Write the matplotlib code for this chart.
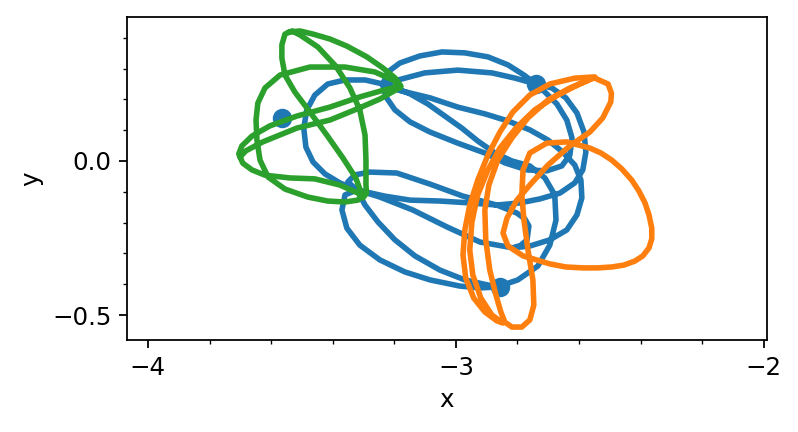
import numpy as np
import matplotlib
matplotlib.use("Agg")
import matplotlib.pyplot as plt

plt.rcParams["font.size"] = 11

# body 1 (blue) trajectory
x1 = [-2.867, -2.799, -2.734, -2.695, -2.675, -2.679, -2.711, -2.760, -2.818, -2.873,
      -2.929, -2.981, -3.036, -3.091, -3.149, -3.198,
      -3.237, -3.221, -3.182, -3.117, -3.045, -2.971, -2.896, -2.831, -2.779, -2.740,
      -2.688, -2.643, -2.607, -2.584, -2.578, -2.588, -2.614, -2.662, -2.727, -2.792,
      -2.867, -2.955, -3.052, -3.149, -3.231, -3.321,
      -3.377, -3.425, -3.464, -3.487, -3.494, -3.484, -3.458, -3.416, -3.360, -3.295, -3.237,
      -3.188, -3.101, -2.994, -2.883, -2.808, -2.740,
      -2.711, -2.672, -2.640, -2.623, -2.630, -2.656, -2.705, -2.769, -2.841, -2.906,
      -2.994, -3.084, -3.149, -3.198, -3.227, -3.237,
      -3.175, -3.084, -2.994, -2.906, -2.831, -2.760, -2.701, -2.653, -2.614, -2.594,
      -2.591, -2.607, -2.640, -2.695, -2.760, -2.815,
      -2.922, -3.029, -3.140, -3.247, -3.321,
      -3.360, -3.370, -3.354, -3.312, -3.247, -3.166, -3.084, -2.987, -2.922, -2.867,
      -2.971, -3.052, -3.133, -3.198, -3.253, -3.295, -3.321,
      -3.351, -3.328, -3.279, -3.192, -3.084, -2.977, -2.867, -2.802, -2.776, -2.763,
      -2.769, -2.790, -2.815]
y1 = [-0.409, -0.386, -0.341, -0.273, -0.192, -0.110, -0.055, -0.016, 0.000, 0.026,
      0.065, 0.107, 0.146, 0.185, 0.218, 0.237,
      0.250, 0.289, 0.318, 0.341, 0.354, 0.351, 0.338, 0.312, 0.279, 0.250,
      0.237, 0.205, 0.156, 0.094, 0.029, -0.029, -0.071, -0.104, -0.123, -0.136,
      -0.143, -0.136, -0.130, -0.127, -0.114, -0.094,
      -0.071, -0.042, -0.003, 0.045, 0.107, 0.166, 0.214, 0.250, 0.263, 0.263, 0.250,
      0.263, 0.286, 0.295, 0.286, 0.269, 0.250,
      0.224, 0.185, 0.133, 0.075, 0.019, -0.016, -0.032, -0.029, -0.006, 0.026,
      0.058, 0.094, 0.127, 0.166, 0.208, 0.244,
      0.227, 0.205, 0.175, 0.153, 0.130, 0.101, 0.068, 0.029, -0.013, -0.062,
      -0.120, -0.175, -0.224, -0.256, -0.276, -0.282,
      -0.263, -0.214, -0.159, -0.117, -0.094,
      -0.110, -0.159, -0.218, -0.273, -0.321, -0.360, -0.386, -0.406, -0.412, -0.409,
      -0.386, -0.354, -0.308, -0.256, -0.198, -0.143, -0.094,
      -0.068, -0.045, -0.036, -0.039, -0.075, -0.114, -0.143, -0.169, -0.188, -0.211,
      -0.256, -0.274, -0.282]

# body 2 (orange) trajectory
x2 = [-2.549, -2.614, -2.695, -2.760, -2.815, -2.857, -2.896, -2.929, -2.955, -2.971,
      -2.977, -2.968, -2.942, -2.906, -2.867, -2.847,
      -2.883, -2.919, -2.945, -2.955, -2.948, -2.929, -2.896, -2.857, -2.805, -2.744,
      -2.669, -2.604, -2.555,
      -2.630, -2.701, -2.766, -2.818, -2.864, -2.893, -2.906, -2.903, -2.890, -2.870,
      -2.854, -2.841, -2.818, -2.786, -2.760, -2.747, -2.750, -2.766, -2.779, -2.786,
      -2.782, -2.760, -2.705, -2.640, -2.565, -2.529, -2.494, -2.461, -2.429, -2.406,
      -2.386, -2.373, -2.364, -2.364, -2.373, -2.393, -2.419, -2.455, -2.494, -2.539,
      -2.588, -2.643, -2.695, -2.782, -2.831, -2.847, -2.834, -2.802, -2.760,
      -2.701, -2.630, -2.565, -2.523, -2.497, -2.495, -2.506, -2.549]
y2 = [0.273, 0.269, 0.250, 0.214, 0.159, 0.094, 0.019, -0.062, -0.143, -0.224,
      -0.305, -0.380, -0.445, -0.490, -0.519, -0.526,
      -0.500, -0.445, -0.370, -0.289, -0.198, -0.110, -0.029, 0.042, 0.107, 0.166,
      0.214, 0.247, 0.269,
      0.237, 0.198, 0.140, 0.075, 0.003, -0.078, -0.159, -0.256, -0.354, -0.435,
      -0.490, -0.523, -0.539, -0.539, -0.516, -0.468, -0.386, -0.289, -0.192, -0.110,
      -0.029, 0.026, 0.058, 0.062, 0.042, 0.026, 0.003, -0.026, -0.062, -0.097,
      -0.136, -0.175, -0.218, -0.253, -0.282, -0.308, -0.325, -0.338, -0.344, -0.347,
      -0.347, -0.344, -0.334, -0.308, -0.276, -0.234, -0.185, -0.127, -0.078,
      -0.013, 0.049, 0.094, 0.140, 0.192, 0.220, 0.250, 0.269]

# body 3 (green) trajectory
x3 = [-3.542, -3.506, -3.464, -3.409, -3.354, -3.289, -3.237, -3.198, -3.179,
      -3.231, -3.312, -3.409, -3.516, -3.604, -3.662, -3.695, -3.705,
      -3.692, -3.662, -3.620, -3.539, -3.458, -3.377, -3.318, -3.302,
      -3.290, -3.292, -3.292, -3.295, -3.312, -3.344, -3.390, -3.448, -3.506, -3.532, -3.555,
      -3.565, -3.565, -3.555, -3.523, -3.474, -3.419, -3.367, -3.325, -3.305,
      -3.318, -3.360, -3.416, -3.481, -3.555, -3.610, -3.636, -3.646, -3.649, -3.643,
      -3.620, -3.571, -3.474, -3.360, -3.263, -3.205, -3.179,
      -3.247, -3.328, -3.409, -3.516, -3.627, -3.682, -3.701]
y3 = [0.419, 0.422, 0.412, 0.396, 0.373, 0.338, 0.302, 0.270, 0.244,
      0.231, 0.208, 0.175, 0.146, 0.114, 0.081, 0.049, 0.023,
      -0.007, -0.029, -0.046, -0.055, -0.058, -0.078, -0.104, -0.120,
      -0.104, -0.078, 0.003, 0.084, 0.166, 0.237, 0.308, 0.370, 0.409, 0.422, 0.412,
      0.377, 0.334, 0.279, 0.224, 0.159, 0.084, 0.010, -0.055, -0.110,
      -0.127, -0.133, -0.130, -0.117, -0.091, -0.052, 0.003, 0.068, 0.133, 0.188,
      0.237, 0.279, 0.305, 0.305, 0.289, 0.263, 0.240,
      0.201, 0.166, 0.133, 0.107, 0.062, 0.033, 0.013]

# starting positions
x0 = [-3.565, -2.740, -2.857]
y0 = [0.140, 0.250, -0.409]

fig = plt.figure(figsize=(798 / 160, 432 / 160), dpi=160)
ax = fig.add_axes([0.1591, 0.2130, 0.8020, 0.7477])

for xs, ys in [(x1, y1), (x2, y2), (x3, y3)]:
    ax.plot(xs, ys, lw=2.5, solid_joinstyle="round", solid_capstyle="round")
ax.scatter(x0, y0, s=60)

ax.set_xlim(-4.068, -1.990)
ax.set_ylim(-0.581, 0.4675)
ax.set_xticks([-4, -3, -2])
ax.set_yticks([-0.5, 0.0])
ax.minorticks_on()
ax.set_xlabel("x")
ax.set_ylabel("y")

fig.savefig("out.png", dpi=160)
